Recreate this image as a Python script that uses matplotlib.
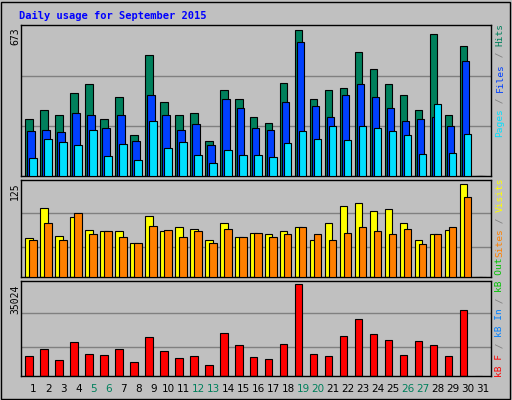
import matplotlib
matplotlib.use("Agg")
import matplotlib.pyplot as plt
from matplotlib.patches import Rectangle
import numpy as np

days = list(range(1, 32))
hits = [252,296,270,368,408,256,354,181,541,328,274,279,154,385,345,265,234,416,652,345,385,390,554,479,408,359,292,634,270,581,0]
files = [199,203,194,279,274,216,270,154,363,270,207,230,136,345,301,212,207,328,599,310,265,363,412,354,305,247,256,261,225,514,0]
pages = [79,167,150,136,207,87,141,70,243,123,150,92,56,114,92,92,83,145,199,163,225,159,221,212,199,181,96,319,101,185,0]
visits = [50,89,53,77,61,59,59,44,79,59,64,62,48,69,52,57,56,59,64,48,70,91,95,85,87,70,48,55,60,120,0]
sites = [48,69,48,82,55,59,52,44,66,61,52,59,44,62,52,57,51,56,64,56,48,57,65,59,56,62,42,55,65,103,0]
kbytes = [7796,10480,6262,13163,8563,8179,10480,5495,15080,9713,7029,7796,4345,16614,12013,7412,6646,12397,35024,8563,7796,15464,21598,16231,13930,8179,13547,12013,7796,25049,0]
weekends = [5,6,12,13,19,20,26,27]

W, H = 512, 400
BG = "#C0C0C0"
fig = plt.figure(figsize=(W/100, H/100), dpi=100, facecolor=BG)
fig.patches.append(Rectangle((1/W, 1/H), 509/W, 397/H, transform=fig.transFigure,
                             fill=False, edgecolor="black", lw=1))
mono = "DejaVu Sans Mono"

def mk(top, bottom):
    ax = fig.add_axes([21/W, (H-bottom)/H, 470/W, (bottom-top)/H])
    ax.set_facecolor(BG)
    ax.set_xlim(-0.27, 31.07)
    ax.set_xticks([]); ax.set_yticks([])
    for s in ax.spines.values():
        s.set_color("black"); s.set_linewidth(1)
    return ax

x = np.arange(31)
ec = dict(edgecolor="black", linewidth=0.8, align="edge", width=0.5)

ax1 = mk(25, 176)
top1 = 673
ax1.set_ylim(0, top1)
for g in (top1/3*0.99, top1*2/3*0.995):
    ax1.axhline(g, color="#808080", lw=1, zorder=0)
ax1.bar(x+0.0, hits, color="#00805C", zorder=2, **ec)
ax1.bar(x+0.133, files, color="#0040FF", zorder=3, **ec)
ax1.bar(x+0.267, pages, color="#00E0FF", zorder=4, **ec)

ax2 = mk(180, 277)
top2 = 125
ax2.set_ylim(0, top2)
for g in (top2*90/288, top2*189/288):
    ax2.axhline(g, color="#808080", lw=1, zorder=0)
ax2.bar(x+0.0, visits, color="#FFFF00", zorder=2, **ec)
ax2.bar(x+0.267, sites, color="#FF8000", zorder=3, **ec)

ax3 = mk(281, 376)
top3 = 36300
ax3.set_ylim(0, top3)
for g in (top3*88/284, top3*187/284):
    ax3.axhline(g, color="#808080", lw=1, zorder=0)
ax3.bar(x+0.0, kbytes, color="#FF0000", zorder=2, **ec)
ax3.set_xticks(x+0.55)
ax3.set_xticklabels([str(d) for d in days], fontsize=7.5, family="DejaVu Sans")
ax3.tick_params(axis="x", length=0, pad=6)
for d, lab in zip(days, ax3.get_xticklabels()):
    lab.set_color("#00805C" if d in weekends else "black")

fig.text(19/W, 1-16/H, "Daily usage for September 2015", color="#0000FF",
         fontsize=7.5, fontweight="bold", family=mono, va="center", ha="left")

# left max labels
for lab, ytop in (("673", 27), ("125", 182), ("35024", 285)):
    fig.text(15/W, 1-ytop/H, lab, rotation=90, fontsize=7, family=mono,
             va="top", ha="center", color="black")

fs = 6.8
adv = 0.602*fs*100/72
def vtext(segs, xpx, ybottom):
    y = ybottom
    for s, c in segs:
        fig.text(xpx/W, 1-y/H, s, rotation=90, fontsize=fs, family=mono,
                 color=c, va="bottom", ha="center")
        y -= len(s)*adv

vtext([("Pages", "#00E0FF"), (" / ", "#808080"), ("Files", "#0040FF"),
       (" / ", "#808080"), ("Hits", "#00805C")], 500, 137)
vtext([("Sites", "#FF8000"), (" / ", "#808080"), ("Visits", "#FFFF00")], 500, 257)
vtext([("kB F", "#FF0000"), (" / ", "#808080"), ("kB In", "#0080FF"),
       (" / ", "#808080"), ("kB Out", "#00C000")], 500, 377)

fig.savefig("out.png", dpi=100, facecolor=BG)
